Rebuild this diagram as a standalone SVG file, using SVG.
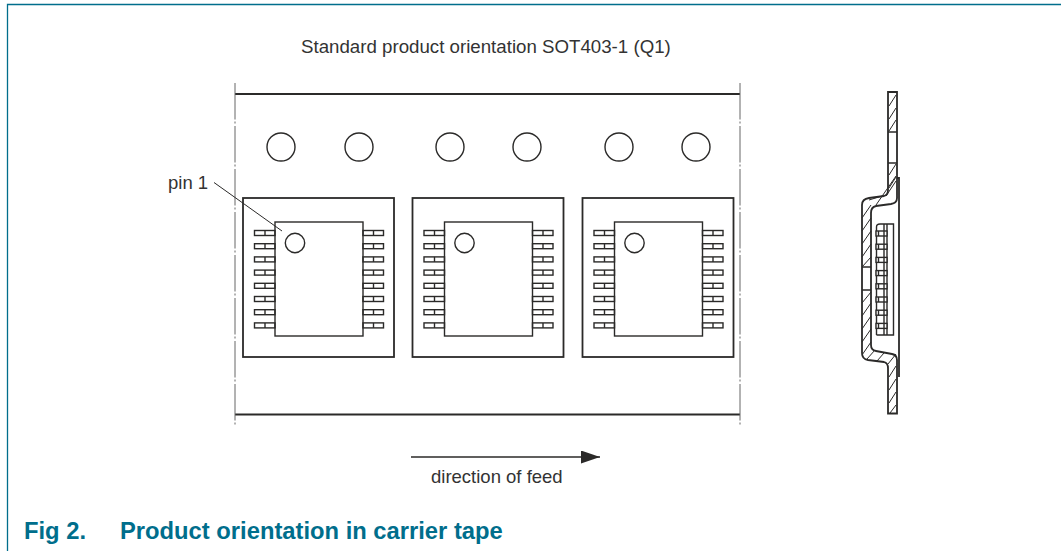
<svg xmlns="http://www.w3.org/2000/svg" xmlns:xlink="http://www.w3.org/1999/xlink" width="1061" height="551" viewBox="0 0 1061 551">
<style>
text{font-family:"Liberation Sans",Arial,sans-serif;fill:#333;font-size:18.5px}
.s{font-size:18.7px}
.t{font-weight:bold;fill:#006e8c;font-size:23.75px}
.l{fill:none;stroke:#2b2a29;stroke-width:1.4}
.b{fill:none;stroke:#2b2a29;stroke-width:1.8}
.h{fill:none;stroke:#2b2a29;stroke-width:1}
.d{fill:none;stroke:#666;stroke-width:1;stroke-dasharray:36.5 2 2 2.5}
</style>
<defs>
<g id="lead"><rect class="l" x="0" y="-2.5" width="20.5" height="5"/><path class="l" d="M10.5-2.5v5"/></g>
<g id="unit">
<rect class="b" x="0" y="0" width="151" height="159"/>
<rect class="l" x="32" y="24" width="88" height="114"/>
<circle class="l" cx="52" cy="45" r="9.7"/>
<use xlink:href="#lead" x="11.5" y="35"/><use xlink:href="#lead" x="11.5" y="48.2"/><use xlink:href="#lead" x="11.5" y="61.4"/><use xlink:href="#lead" x="11.5" y="74.6"/><use xlink:href="#lead" x="11.5" y="87.8"/><use xlink:href="#lead" x="11.5" y="101"/><use xlink:href="#lead" x="11.5" y="114.2"/><use xlink:href="#lead" x="11.5" y="127.4"/>
<use xlink:href="#lead" x="120" y="35"/><use xlink:href="#lead" x="120" y="48.2"/><use xlink:href="#lead" x="120" y="61.4"/><use xlink:href="#lead" x="120" y="74.6"/><use xlink:href="#lead" x="120" y="87.8"/><use xlink:href="#lead" x="120" y="101"/><use xlink:href="#lead" x="120" y="114.2"/><use xlink:href="#lead" x="120" y="127.4"/>
</g>
<g id="side-lead"><rect class="l" x="876" y="-2.5" width="11" height="5" fill="#fff" style="fill:#fff"/><path class="l" d="M878.5-2.5v5M884-2.5v5"/></g>
<marker id="arrow" markerUnits="userSpaceOnUse" markerWidth="20" markerHeight="14" refX="19" refY="6.5" orient="auto"><path d="M0 0L19 6.5L0 13z" fill="#2b2a29"/></marker>
</defs>
<rect width="1061" height="551" fill="#fff"/>
<path id="frame" d="M7.5 551V4.5H1061" fill="none" stroke="#006e8c" stroke-width="1.3"/>
<text class="s" x="301" y="52.5">Standard product orientation SOT403-1 (Q1)</text>
<g id="tape">
<path class="b" d="M235 94H740M235 414.5H740"/>
<path class="d" d="M235 83V426M740 83V426"/>
<circle class="l" cx="281" cy="147" r="14"/><circle class="l" cx="359" cy="147" r="14"/>
<circle class="l" cx="450" cy="147" r="14"/><circle class="l" cx="527" cy="147" r="14"/>
<circle class="l" cx="619" cy="147" r="14"/><circle class="l" cx="696" cy="147" r="14"/>
</g>
<use id="pocket-1" xlink:href="#unit" x="243" y="198"/>
<use id="pocket-2" xlink:href="#unit" x="412.5" y="198"/>
<use id="pocket-3" xlink:href="#unit" x="582.5" y="198"/>
<g id="side-view">
<path class="b" d="M888 92V190Q888 195 884 196L869 198Q862 199 862 205V353Q862 359 868 360L884 362Q888 363 888 368V413.5H897V360Q897 355 892 354L876 351Q871 350 871 345V213Q871 207 876 206L891 204Q897 203 897 198V92Z" fill="#fff"/>
<path class="b" d="M897 178H899V377"/>
<path class="l" d="M888 132H897M888 163H897M862 267H871M862 290H871"/>
<path class="h" d="M889 106L896 95M889 119L896 108M889 131L896 120M889 175L896 164M889 188L896 177M886 196L896 181M876 205L896 176M869 200L882 196M862 218L871 205M862 231L871 218M862 244L871 231M862 257L871 244M862 267L871 257M862 303L871 292M862 316L871 303M862 329L871 316M862 342L871 329M862 355L871 342M867 359L875 350M877 361L884 353M888 364L896 354M889 377L896 366M889 390L896 379M889 403L896 392M890 413L896 405"/>
<path class="l" d="M876.5 335V227Q876.5 224 880 224H893.5V335H876.5"/>
<path class="l" d="M884 224V335M887 224V335"/>
<use xlink:href="#side-lead" y="233.5"/><use xlink:href="#side-lead" y="246.7"/><use xlink:href="#side-lead" y="259.9"/><use xlink:href="#side-lead" y="273.1"/><use xlink:href="#side-lead" y="286.3"/><use xlink:href="#side-lead" y="299.5"/><use xlink:href="#side-lead" y="312.7"/><use xlink:href="#side-lead" y="325.9"/>
</g>
<g id="pin-label">
<text x="168" y="188.5">pin 1</text>
<path class="h" d="M214 182.5L282 231"/>
</g>
<g id="connectors">
<path d="M411 457H600" stroke="#2b2a29" stroke-width="1.5" fill="none" marker-end="url(#arrow)"/>
</g>
<text x="431" y="482.7">direction of feed</text>
<text class="t" x="24" y="539">Fig 2.</text>
<text class="t" x="120" y="539">Product orientation in carrier tape</text>
</svg>
